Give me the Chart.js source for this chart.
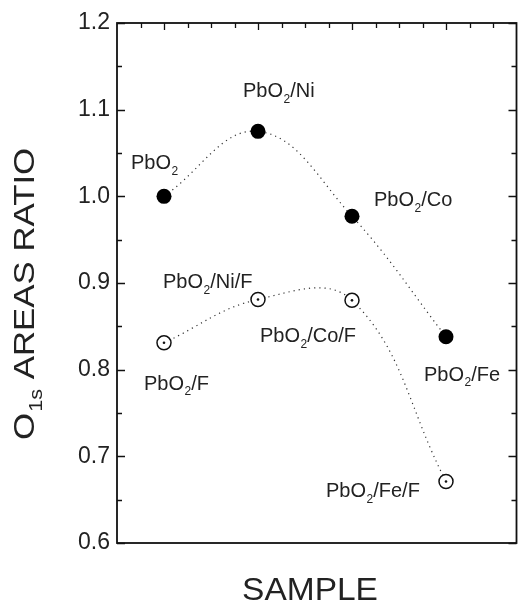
<!DOCTYPE html>
<html>
<head>
<meta charset="utf-8">
<script src="https://cdn.jsdelivr.net/npm/chart.js@4.4.1/dist/chart.umd.min.js"></script>
<style>
  html, body { margin: 0; padding: 0; background: #fff; }
</style>
</head>
<body>
<canvas id="chart" width="525" height="603"></canvas>
<script>
// Sample positions along the x axis (no tick labels shown)
const samplePos = [1, 2, 3, 4];

// Unfluorinated samples (filled circles)
const plainNames = ['PbO2', 'PbO2/Ni', 'PbO2/Co', 'PbO2/Fe'];
const plainRatio = [1.000, 1.075, 0.977, 0.838];

// Fluorinated samples (open circles with a centre dot)
const fluorNames = ['PbO2/F', 'PbO2/Ni/F', 'PbO2/Co/F', 'PbO2/Fe/F'];
const fluorRatio = [0.831, 0.881, 0.880, 0.671];

// Y axis
const yMin = 0.6, yMax = 1.2, yStep = 0.1;

// where each label sits relative to its point (px: left edge, cap centre)
const plainLabelOff = [[-33, -34], [-15, -41], [22, -17], [-22, 37]];
const fluorLabelOff = [[-20, 40], [-95, -18], [-92, 35], [-120, 9]];

const FONT = '"Liberation Sans", Arial, Helvetica, sans-serif';

function toPoints(vals) {
    return samplePos.map((x, i) => ({ x: x, y: vals[i] }));
}

// draws text like "PbO2/Ni" with the 2 lowered as a subscript
function drawChem(ctx, name, x, y, size) {
    const pieces = name.split('2');
    ctx.font = size + 'px ' + FONT;
    ctx.fillText(pieces[0], x, y);
    x += ctx.measureText(pieces[0]).width;
    if (pieces.length > 1) {
        ctx.font = Math.round(size * 0.62) + 'px ' + FONT;
        ctx.fillText('2', x + 0.5, y + size * 0.28);
        x += ctx.measureText('2').width + 0.5;
        ctx.font = size + 'px ' + FONT;
        ctx.fillText(pieces.slice(1).join('2'), x, y);
    }
}

const framePlugin = {
    id: 'frame',
    afterDraw(chart) {
        const ctx = chart.ctx;
        const area = chart.chartArea;
        const xs = chart.scales.x, ys = chart.scales.y;
        ctx.save();

        // box
        ctx.strokeStyle = '#111';
        ctx.lineWidth = 1.8;
        ctx.strokeRect(area.left, area.top, area.right - area.left, area.bottom - area.top);

        // inward ticks, left and right
        ctx.lineWidth = 1.3;
        ctx.beginPath();
        for (let v = yMin; v <= yMax + 1e-9; v += yStep / 2) {
            const py = Math.round(ys.getPixelForValue(v)) + 0.5;
            const major = Math.abs(Math.round(v / yStep) * yStep - v) < 1e-6;
            const len = major ? 8 : 5;
            ctx.moveTo(area.left, py); ctx.lineTo(area.left + len, py);
            ctx.moveTo(area.right, py); ctx.lineTo(area.right - len, py);
        }
        // top ticks
        for (let v = 0.75; v <= 4.5 + 1e-9; v += 0.25) {
            const px = Math.round(xs.getPixelForValue(v)) + 0.5;
            const len = Math.abs(v - Math.round(v)) < 1e-6 ? 7 : 5;
            ctx.moveTo(px, area.top); ctx.lineTo(px, area.top + len);
        }
        ctx.stroke();

        // point labels
        ctx.fillStyle = '#222';
        ctx.textBaseline = 'alphabetic';
        ctx.textAlign = 'left';
        const labelSet = (names, vals, offs) => {
            names.forEach((n, i) => {
                const px = xs.getPixelForValue(samplePos[i]);
                const py = ys.getPixelForValue(vals[i]);
                drawChem(ctx, n, px + offs[i][0], py + offs[i][1] + 7, 20);
            });
        };
        labelSet(plainNames, plainRatio, plainLabelOff);
        labelSet(fluorNames, fluorRatio, fluorLabelOff);

        // x title
        ctx.save();
        ctx.font = '31px ' + FONT;
        ctx.textAlign = 'center';
        ctx.translate(310, 600);
        ctx.scale(1.08, 1);
        ctx.fillText('SAMPLE', 0, 0);
        ctx.restore();

        // y title with subscript
        ctx.save();
        ctx.translate(34, 440);
        ctx.rotate(-Math.PI / 2);
        ctx.scale(1.2, 1);
        ctx.textAlign = 'left';
        ctx.font = '29px ' + FONT;
        ctx.fillText('O', 0, 0);
        let w = ctx.measureText('O').width;
        ctx.font = '18px ' + FONT;
        ctx.fillText('1s', w + 1, 8);
        w += ctx.measureText('1s').width + 1;
        ctx.font = '29px ' + FONT;
        ctx.fillText(' AREAS RATIO', w, 0);
        ctx.restore();

        ctx.restore();
    }
};

const ctx = document.getElementById('chart').getContext('2d');
const chart = new Chart(ctx, {
    type: 'line',
    data: {
        datasets: [
            {
                label: 'As prepared',
                data: toPoints(plainRatio),
                borderColor: '#333',
                borderWidth: 1.2,
                borderDash: [1.2, 4],
                tension: 0.4,
                pointRadius: 7.5,
                pointBackgroundColor: '#000',
                pointBorderColor: '#000',
                pointBorderWidth: 0,
                order: 1
            },
            {
                label: 'Fluorinated',
                data: toPoints(fluorRatio),
                borderColor: '#333',
                borderWidth: 1.2,
                borderDash: [1.2, 4],
                tension: 0.4,
                pointRadius: 7,
                pointBackgroundColor: '#fff',
                pointBorderColor: '#111',
                pointBorderWidth: 1.5,
                order: 1
            },
            {
                // centre dots go on top of the open circles
                label: 'Fluorinated centre',
                data: toPoints(fluorRatio),
                showLine: false,
                pointRadius: 1.3,
                pointBackgroundColor: '#111',
                pointBorderWidth: 0,
                order: -1
            }
        ]
    },
    options: {
        responsive: false,
        animation: false,
        layout: {
            padding: { top: 23, right: 4, left: 0, bottom: 0 }
        },
        plugins: {
            legend: { display: false },
            tooltip: { enabled: false }
        },
        scales: {
            x: {
                type: 'linear',
                min: 0.5,
                max: 4.75,
                grid: { display: false, drawTicks: false },
                border: { display: false },
                ticks: { display: false },
                afterFit: function(scale) { scale.height = 60; }
            },
            y: {
                type: 'linear',
                min: yMin,
                max: yMax,
                grid: { display: false, drawTicks: false },
                border: { display: false },
                ticks: {
                    stepSize: yStep,
                    padding: 7,
                    color: '#222',
                    font: { family: FONT, size: 23 },
                    callback: function(v) { return v.toFixed(1); }
                },
                afterFit: function(scale) { scale.width = 117; }
            }
        }
    },
    plugins: [framePlugin]
});
</script>
</body>
</html>
